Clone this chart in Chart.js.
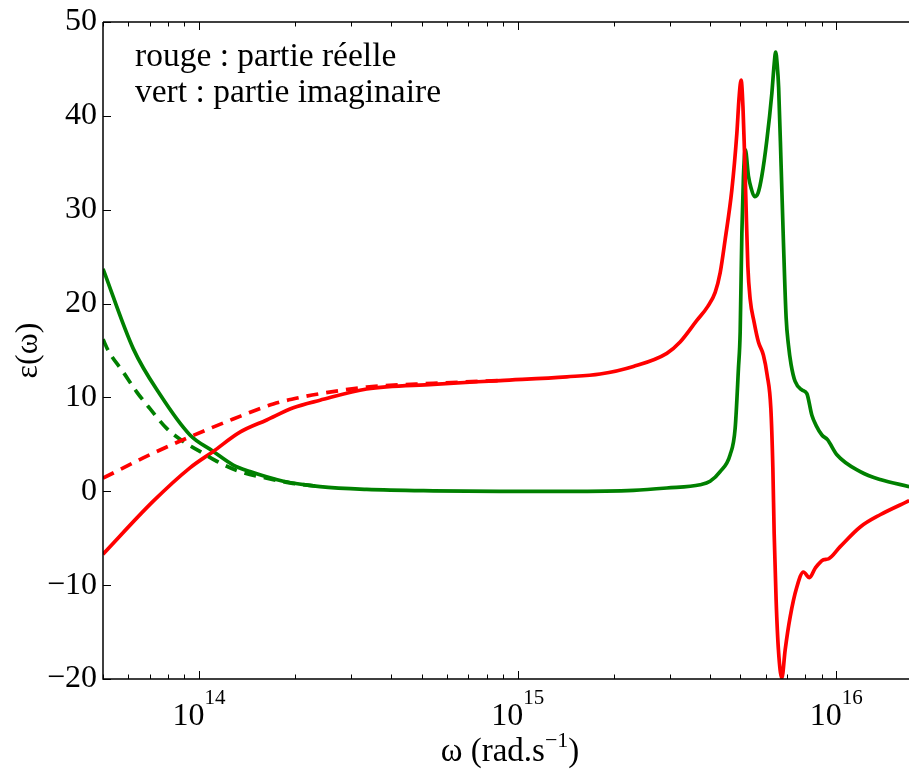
<!DOCTYPE html>
<html><head><meta charset="utf-8">
<script src="https://cdn.jsdelivr.net/npm/chart.js@4/dist/chart.umd.min.js"></script>
<style>html,body{margin:0;padding:0;background:#fff;overflow:hidden}canvas{display:block}</style>
</head><body>
<canvas id="c" width="909" height="769"></canvas>
<script>
// ---------- data (omega in rad/s, epsilon values) ----------
const realW = [5.0e13, 7.19e13, 9.37e13, 1.109e14, 1.345e14, 1.632e14, 1.977e14, 2.398e14, 3.36e14, 5.44e14, 8.81e14, 1.426e15, 1.814e15, 2.308e15, 2.938e15, 3.234e15, 3.65e15, 3.95e15, 4.166e15, 4.32e15, 4.477e15, 4.699e15, 4.872e15, 4.953e15, 5.025e15, 5.092e15, 5.146e15, 5.20e15, 5.275e15, 5.363e15, 5.521e15, 5.695e15, 5.904e15, 6.065e15, 6.229e15, 6.32e15, 6.38e15, 6.471e15, 6.58e15, 6.745e15, 6.907e15, 7.16e15, 7.516e15, 7.882e15, 8.232e15, 8.58e15, 9.11e15, 9.445e15, 1.028e16, 1.188e16, 1.372e16, 1.693e16];
const realE = [-6.7, -1.05, 2.5, 4.25, 6.3, 7.6, 8.9, 9.7, 10.9, 11.4, 11.8, 12.2, 12.5, 13.3, 14.7, 15.9, 18.2, 19.7, 21.2, 23.3, 26.8, 32.1, 38.1, 42.0, 43.8, 41.0, 36.4, 31.1, 24.0, 20.5, 18.0, 15.9, 14.5, 12.4, 8.8, 2.5, -4.5, -11.6, -16.9, -19.9, -16.9, -13.4, -10.2, -8.6, -9.2, -8.2, -7.3, -7.2, -5.9, -3.8, -2.5, -1.0];

const imagW = [5.0e13, 6.22e13, 7.55e13, 9.37e13, 1.109e14, 1.281e14, 1.446e14, 1.839e14, 2.398e14, 3.36e14, 5.44e14, 8.81e14, 1.426e15, 2.308e15, 2.938e15, 3.737e15, 4.017e15, 4.318e15, 4.642e15, 4.813e15, 4.929e15, 4.991e15, 5.052e15, 5.11e15, 5.18e15, 5.298e15, 5.402e15, 5.532e15, 5.682e15, 5.837e15, 6.051e15, 6.274e15, 6.38e15, 6.449e15, 6.52e15, 6.59e15, 6.71e15, 6.823e15, 6.956e15, 7.073e15, 7.21e15, 7.424e15, 7.792e15, 8.08e15, 8.378e15, 8.642e15, 9.007e15, 9.378e15, 1.0037e16, 1.188e16, 1.372e16, 1.693e16];
const imagE = [23.7, 15.2, 10.3, 6.0, 4.25, 2.8, 2.1, 1.07, 0.5, 0.2, 0.05, 0.0, 0.0, 0.1, 0.35, 0.7, 1.07, 2.1, 3.9, 6.7, 13.1, 17.0, 27.5, 33.5, 36.4, 33.6, 32.3, 31.4, 31.8, 33.6, 37.4, 42.4, 45.5, 46.8, 45.5, 43.0, 34.6, 26.5, 18.5, 15.6, 13.5, 11.7, 10.8, 10.4, 8.1, 7.0, 6.0, 5.5, 3.9, 2.1, 1.25, 0.5];

const realModelW = [5.0e13, 7.02e13, 9.37e13, 1.281e14, 1.711e14, 2.075e14, 2.398e14, 3.36e14, 5.44e14, 8.81e14];
const realModelE = [1.4, 3.9, 5.8, 7.7, 9.3, 10.0, 10.4, 11.1, 11.5, 11.8];

const imagModelW = [5.0e13, 5.19e13, 5.786e13, 6.375e13, 7.02e13, 7.92e13, 8.928e13, 1.007e14, 1.137e14, 1.345e14, 1.632e14, 1.931e14, 2.398e14];
const imagModelE = [16.2, 15.0, 12.7, 10.6, 8.8, 6.7, 5.3, 4.25, 3.2, 2.1, 1.4, 0.9, 0.5];

const yTickValues = [-20, -10, 0, 10, 20, 30, 40, 50];
const xDecades = [14, 15, 16];
const legendLines = ['rouge : partie réelle', 'vert : partie imaginaire'];
const yTitle = 'ε(ω)';
const xTitleBase = 'ω (rad.s';
const xTitleSup = '−1';
const xTitleEnd = ')';

// ---------- chart ----------
const FONT = '"Liberation Serif", "Times New Roman", serif';
const RED = '#ff0000', GREEN = '#008000';
const pts = (w, e) => w.map((v, i) => ({x: v, y: e[i]}));

const framePlugin = {
  id: 'frame',
  afterDatasetsDraw(chart) {
    const {ctx, chartArea: a, scales: {x, y}} = chart;
    ctx.save();
    ctx.strokeStyle = '#000';
    ctx.lineWidth = 1.5;
    ctx.beginPath();
    ctx.moveTo(a.left, a.top); ctx.lineTo(a.right + 5, a.top);
    ctx.moveTo(a.left, a.top); ctx.lineTo(a.left, a.bottom); ctx.lineTo(a.right + 5, a.bottom);
    ctx.stroke();
    ctx.lineWidth = 1;
    ctx.beginPath();
    for (let d = 13; d <= 16; d++) {
      for (let m = 1; m <= 9; m++) {
        const v = m * Math.pow(10, d);
        if (v < x.min || v > x.max) continue;
        const px = Math.round(x.getPixelForValue(v)) + 0.5;
        const len = m === 1 ? 8 : 4.5;
        ctx.moveTo(px, a.bottom); ctx.lineTo(px, a.bottom - len);
        ctx.moveTo(px, a.top); ctx.lineTo(px, a.top + len);
      }
    }
    yTickValues.forEach(v => {
      const py = Math.round(y.getPixelForValue(v)) + 0.5;
      ctx.moveTo(a.left, py); ctx.lineTo(a.left + 8, py);
    });
    ctx.stroke();

    // x tick labels 10^n
    ctx.fillStyle = '#000';
    ctx.textBaseline = 'alphabetic';
    ctx.textAlign = 'left';
    xDecades.forEach(d => {
      const px = x.getPixelForValue(Math.pow(10, d));
      ctx.font = '32px ' + FONT;
      const wb = ctx.measureText('10').width;
      ctx.font = '21px ' + FONT;
      const ws = ctx.measureText(String(d)).width;
      const start = px - (wb + ws) / 2;
      ctx.font = '32px ' + FONT;
      ctx.fillText('10', start, 725);
      ctx.font = '21px ' + FONT;
      ctx.fillText(String(d), start + wb, 704);
    });

    // x axis title
    ctx.font = '33px ' + FONT;
    const w1 = ctx.measureText(xTitleBase).width;
    const w3 = ctx.measureText(xTitleEnd).width;
    ctx.font = '22px ' + FONT;
    const w2 = ctx.measureText(xTitleSup).width;
    let tx = 510 - (w1 + w2 + w3) / 2;
    ctx.font = '33px ' + FONT;
    ctx.fillText(xTitleBase, tx, 761);
    ctx.font = '22px ' + FONT;
    ctx.fillText(xTitleSup, tx + w1, 747);
    ctx.font = '33px ' + FONT;
    ctx.fillText(xTitleEnd, tx + w1 + w2, 761);

    // legend text
    ctx.font = '33.5px ' + FONT;
    ctx.fillText(legendLines[0], 135, 66);
    ctx.fillText(legendLines[1], 135, 102);
    ctx.restore();
  }
};

const common = {pointRadius: 0, borderWidth: 3.7, fill: false, cubicInterpolationMode: 'monotone'};

new Chart(document.getElementById('c'), {
  type: 'line',
  data: {
    datasets: [
      Object.assign({label: 'réel modèle', data: pts(realModelW, realModelE), borderColor: RED, borderDash: [12, 8]}, common),
      Object.assign({label: 'imag modèle', data: pts(imagModelW, imagModelE), borderColor: GREEN, borderDash: [12, 8]}, common),
      Object.assign({label: 'partie réelle', data: pts(realW, realE), borderColor: RED}, common),
      Object.assign({label: 'partie imaginaire', data: pts(imagW, imagE), borderColor: GREEN}, common)
    ]
  },
  options: {
    responsive: false,
    devicePixelRatio: 1,
    animation: false,
    layout: {padding: {top: 18, left: 0, right: 0, bottom: 0}},
    plugins: {legend: {display: false}, tooltip: {enabled: false}},
    scales: {
      x: {
        type: 'logarithmic', min: 5e13, max: 1.69e16,
        grid: {display: false, drawTicks: false}, border: {display: false},
        ticks: {display: false},
        afterFit(s) { s.height = 90; }
      },
      y: {
        type: 'linear', min: -20, max: 50,
        grid: {display: false, drawTicks: false}, border: {display: false},
        ticks: {
          stepSize: 10, padding: 6, color: '#000',
          font: {family: FONT, size: 32, lineHeight: 1},
          callback: v => String(v).replace('-', '−')
        },
        title: {display: true, text: yTitle, color: '#000', font: {family: FONT, size: 32}, padding: {top: 9, bottom: 0}},
        afterFit(s) { s.width = 103; }
      }
    }
  },
  plugins: [framePlugin]
});
</script>
</body></html>
